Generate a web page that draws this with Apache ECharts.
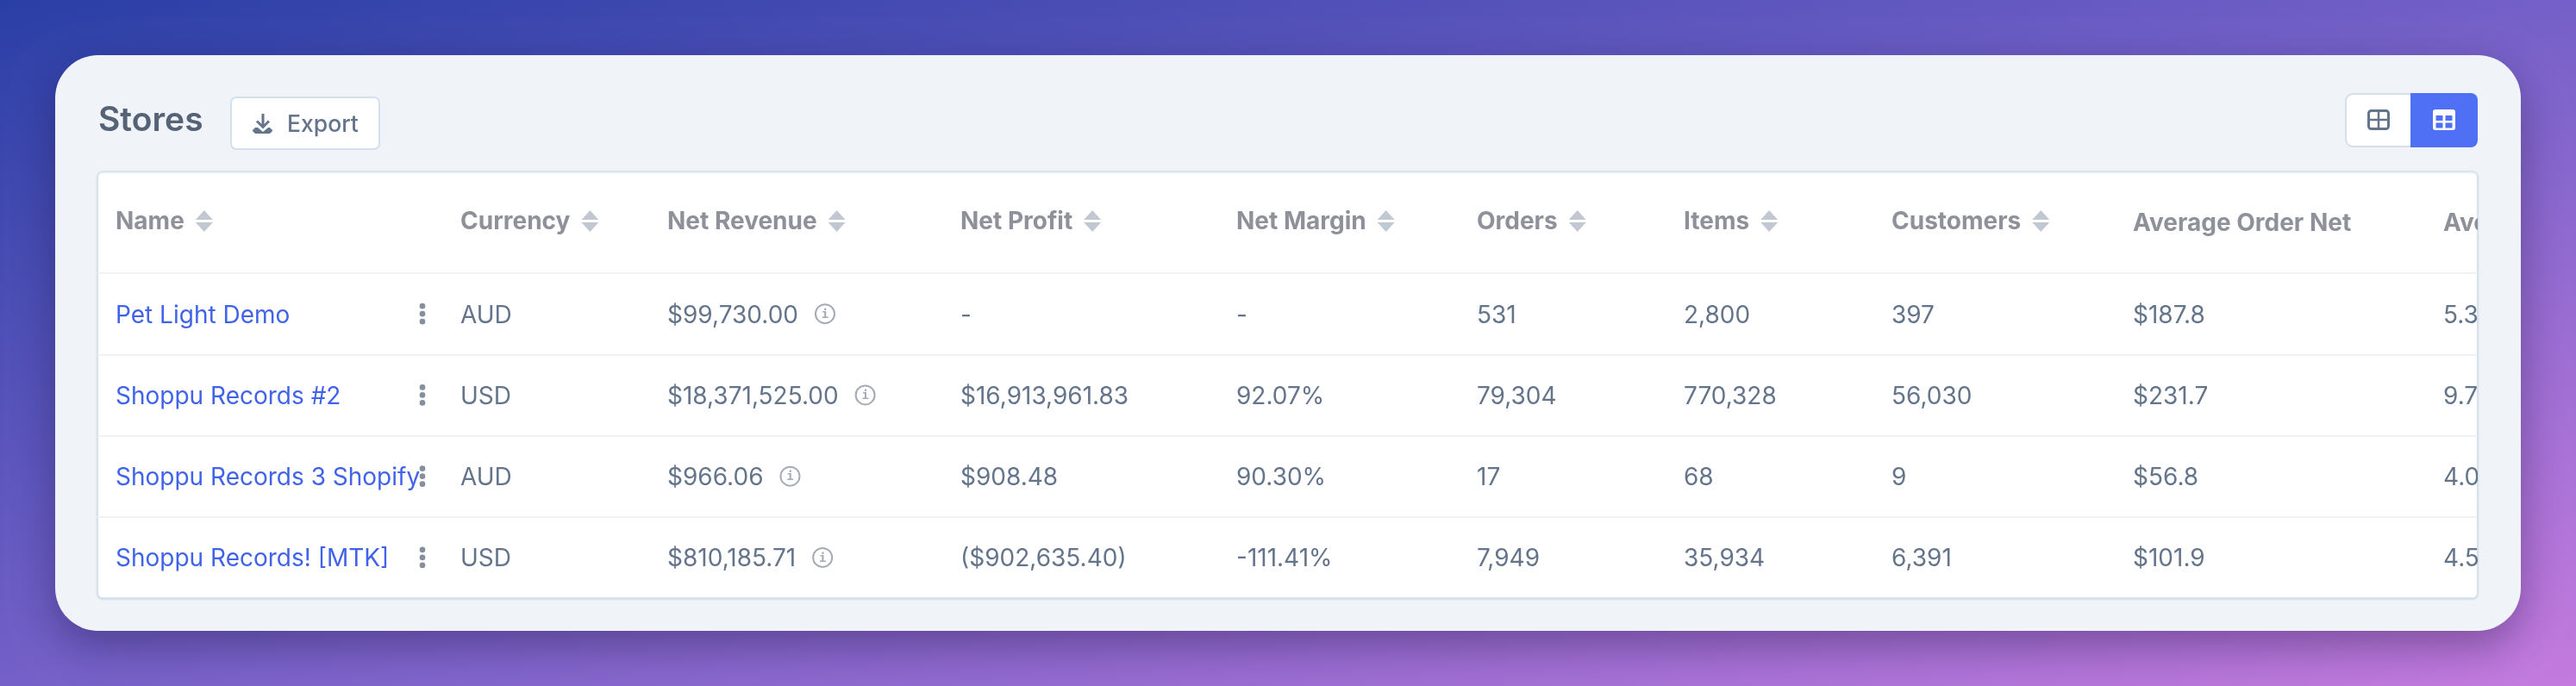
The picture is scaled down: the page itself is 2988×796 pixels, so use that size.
<!DOCTYPE html>
<html>
<head>
<meta charset="utf-8">
<style>
  html, body { margin: 0; padding: 0; background: #6a5bc0; }
  #chart { width: 2988px; height: 796px; }
</style>
</head>
<body>
<div id="chart"></div>
<script src="https://cdn.jsdelivr.net/npm/echarts@6/dist/echarts.min.js"></script>
<script>
// table contents
const headers = ['Name', 'Currency', 'Net Revenue', 'Net Profit', 'Net Margin', 'Orders', 'Items', 'Customers', 'Average Order Net', 'Ave']
const sortable = [true, true, true, true, true, true, true, true, false, false]
const names = ['Pet Light Demo', 'Shoppu Records #2', 'Shoppu Records 3 Shopify', 'Shoppu Records! [MTK]']
const currencies = ['AUD', 'USD', 'AUD', 'USD']
const netRevenue = ['$99,730.00', '$18,371,525.00', '$966.06', '$810,185.71']
const netProfit = ['-', '$16,913,961.83', '$908.48', '($902,635.40)']
const netMargin = ['-', '92.07%', '90.30%', '-111.41%']
const orders = ['531', '79,304', '17', '7,949']
const items = ['2,800', '770,328', '68', '35,934']
const customers = ['397', '56,030', '9', '6,391']
const averageOrderNet = ['$187.8', '$231.7', '$56.8', '$101.9']
const lastColumn = ['5.3', '9.7', '4.0', '4.5']

const columns = [names, currencies, netRevenue, netProfit, netMargin, orders, items, customers, averageOrderNet, lastColumn]

// left edge of each column, page pixels
const columnStart = [134, 534, 774, 1114, 1434, 1713, 1953, 2194, 2474, 2834]

const FONT = 'Inter, "Noto Sans", sans-serif'
const BODY_FONT = `400 28px ${FONT}`
const HEAD_FONT = `700 28px ${FONT}`
const TEXT = '#64748b'
const LINK = '#4163ea'
const HEAD = '#8e9199'
const SORT = '#c2c8d1'
const LINE = '#eef1f6'
const EDGE = '#d4e0ea'
const BLUE = '#4f70f5'

const measure = document.createElement('canvas').getContext('2d')
function textWidth (text, font) {
  measure.font = font
  return measure.measureText(text).width
}

function renderHeader (params, api) {
  const point = api.coord([api.value(0), api.value(1)])
  const label = headers[params.dataIndex]
  const isSortable = sortable[params.dataIndex]
  const y = isSortable ? point[1] : point[1] + 2
  const children = [{
    type: 'text',
    style: { text: label, x: point[0], y: y, font: HEAD_FONT, fill: HEAD, verticalAlign: 'middle' }
  }]
  if (isSortable) {
    const left = point[0] + textWidth(label, HEAD_FONT) + 13
    const mid = point[1] - 2
    children.push({
      type: 'polygon',
      shape: { points: [[left, mid - 1], [left + 20, mid - 1], [left + 10, mid - 12]] },
      style: { fill: SORT }
    }, {
      type: 'polygon',
      shape: { points: [[left, mid + 2], [left + 20, mid + 2], [left + 10, mid + 13]] },
      style: { fill: SORT }
    })
  }
  return { type: 'group', children: children }
}

function renderCell (params, api) {
  const point = api.coord([api.value(0), api.value(1)])
  const row = api.value(1)
  const col = api.value(2)
  const label = columns[col][row]
  const children = [{
    type: 'text',
    style: { text: label, x: point[0], y: point[1] + 2, font: BODY_FONT, fill: col === 0 ? LINK : TEXT, verticalAlign: 'middle' }
  }]
  if (col === 0) {
    // row menu dots
    ;[-9, 0, 9].forEach(dy => {
      children.push({
        type: 'circle',
        shape: { cx: point[0] + 356, cy: point[1] + dy, r: 3.3 },
        style: { fill: '#858f9e' }
      })
    })
  }
  if (col === 2) {
    // info icon after the revenue
    const cx = point[0] + textWidth(label, BODY_FONT) + 31
    children.push({
      type: 'circle',
      shape: { cx: cx, cy: point[1], r: 11 },
      style: { fill: 'none', stroke: '#a5abb5', lineWidth: 2 }
    }, {
      type: 'text',
      style: { text: 'i', x: cx, y: point[1] + 1, font: '700 14px "DejaVu Sans Mono"', fill: '#a5abb5', align: 'center', verticalAlign: 'middle' }
    })
  }
  return { type: 'group', children: children }
}

const cellData = []
columns.forEach((values, col) => {
  values.forEach((value, row) => {
    cellData.push([columnStart[col], row, col])
  })
})

const chart = echarts.init(document.getElementById('chart'), null, { renderer: 'canvas' })

chart.setOption({
  animation: false,
  tooltip: { show: false },
  textStyle: { fontFamily: FONT },
  graphic: [
    {
      // page background, same corner colours as a css "to bottom right" gradient
      type: 'rect',
      z: -5,
      shape: { x: 0, y: 0, width: 2988, height: 796 },
      style: {
        fill: new echarts.graphic.LinearGradient(1296, -345, 1692, 1141, [
          { offset: 0, color: '#2a3fa6' },
          { offset: 0.5, color: '#7460c8' },
          { offset: 1, color: '#c47ade' }
        ], true)
      }
    },
    {
      type: 'rect',
      z: -4,
      shape: { x: 64, y: 64, width: 2860, height: 668, r: 50 },
      style: { fill: '#f0f4f9', shadowBlur: 50, shadowOffsetY: 18, shadowColor: 'rgba(25, 15, 60, 0.38)' }
    },
    {
      type: 'rect',
      z: -3,
      shape: { x: 113, y: 199, width: 2761, height: 495, r: 6 },
      style: { fill: '#fff', stroke: EDGE, lineWidth: 1.5, shadowBlur: 2, shadowOffsetY: 1, shadowColor: 'rgba(100, 130, 170, 0.2)' }
    },
    {
      type: 'text',
      z: 1,
      style: { text: 'Stores', x: 114, y: 140, font: `600 39px ${FONT}`, fill: '#566377', verticalAlign: 'middle' }
    },
    // export button
    {
      type: 'rect',
      z: 1,
      shape: { x: 268, y: 113, width: 172, height: 60, r: 6 },
      style: { fill: '#fff', stroke: EDGE, lineWidth: 2 }
    },
    {
      type: 'polygon',
      z: 2,
      shape: { points: [[303.5, 132], [306.5, 132], [306.5, 144], [311, 139.5], [313, 141.5], [305, 149.5], [297, 141.5], [299, 139.5], [303.5, 144]] },
      style: { fill: TEXT }
    },
    {
      type: 'polygon',
      z: 2,
      shape: { points: [[293, 151], [296, 148], [299, 148], [305, 153], [311, 148], [313, 148], [316, 151], [316, 152], [313, 155], [296, 155], [293, 152]] },
      style: { fill: TEXT }
    },
    {
      type: 'text',
      z: 2,
      style: { text: 'Export', x: 333, y: 145, font: `500 26.5px ${FONT}`, fill: TEXT, verticalAlign: 'middle' }
    },
    // view toggle
    {
      type: 'rect',
      z: 1,
      shape: { x: 2721, y: 109, width: 100, height: 61, r: 8 },
      style: { fill: '#fff', stroke: EDGE, lineWidth: 2 }
    },
    {
      type: 'rect',
      z: 2,
      shape: { x: 2796, y: 108, width: 78, height: 63, r: [0, 8, 8, 0] },
      style: { fill: BLUE }
    },
    {
      type: 'rect',
      z: 3,
      shape: { x: 2747.5, y: 128.5, width: 23, height: 21, r: 3 },
      style: { fill: 'none', stroke: TEXT, lineWidth: 3 }
    },
    { type: 'line', z: 3, shape: { x1: 2759, y1: 128, x2: 2759, y2: 150 }, style: { stroke: TEXT, lineWidth: 2.5 } },
    { type: 'line', z: 3, shape: { x1: 2747, y1: 139, x2: 2771, y2: 139 }, style: { stroke: TEXT, lineWidth: 2.5 } },
    {
      type: 'rect',
      z: 3,
      shape: { x: 2822, y: 127, width: 26, height: 24, r: 3 },
      style: { fill: '#fff' }
    },
    { type: 'rect', z: 4, shape: { x: 2825.5, y: 134, width: 8, height: 6 }, style: { fill: BLUE } },
    { type: 'rect', z: 4, shape: { x: 2836.5, y: 134, width: 8, height: 6 }, style: { fill: BLUE } },
    { type: 'rect', z: 4, shape: { x: 2825.5, y: 142.5, width: 8, height: 6 }, style: { fill: BLUE } },
    { type: 'rect', z: 4, shape: { x: 2836.5, y: 142.5, width: 8, height: 6 }, style: { fill: BLUE } }
  ],
  grid: [
    { left: 113, right: 114, top: 199, height: 118 },
    { left: 113, right: 114, top: 317, height: 377 }
  ],
  xAxis: [
    { gridIndex: 0, type: 'value', min: 113, max: 2874, show: false },
    { gridIndex: 1, type: 'value', min: 113, max: 2874, show: false }
  ],
  yAxis: [
    { gridIndex: 0, type: 'category', inverse: true, data: ['header'], show: false },
    {
      gridIndex: 1,
      type: 'category',
      inverse: true,
      data: names,
      axisLine: { show: false },
      axisTick: { show: false },
      axisLabel: { show: false },
      splitLine: { show: true, showMaxLine: false, interval: 0, lineStyle: { color: LINE, width: 2 } }
    }
  ],
  series: [
    {
      type: 'custom',
      name: 'header',
      xAxisIndex: 0,
      yAxisIndex: 0,
      clip: true,
      renderItem: renderHeader,
      encode: { x: 0, y: 1 },
      data: columnStart.map(x => [x, 0])
    },
    {
      type: 'custom',
      name: 'stores',
      xAxisIndex: 1,
      yAxisIndex: 1,
      clip: true,
      renderItem: renderCell,
      encode: { x: 0, y: 1 },
      data: cellData
    }
  ]
})
</script>
</body>
</html>
